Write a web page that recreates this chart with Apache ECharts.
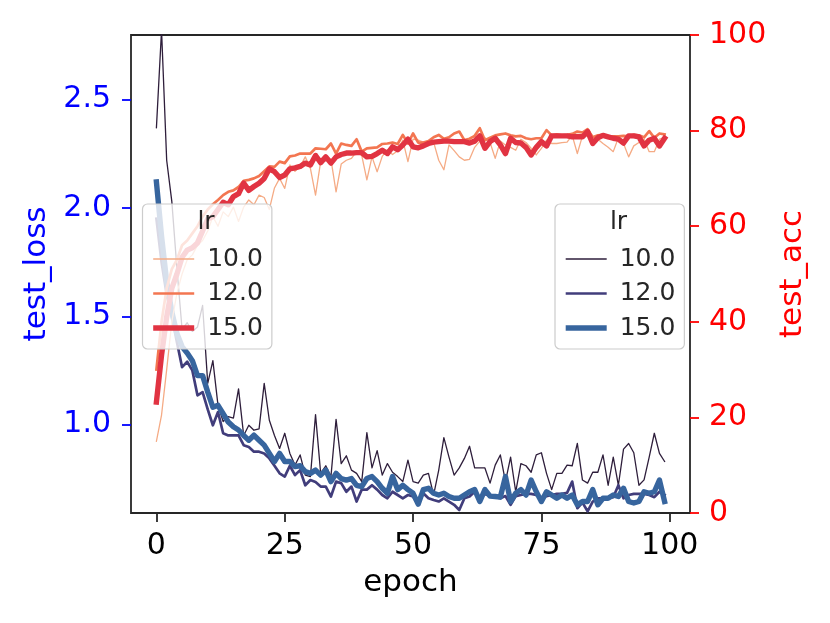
<!DOCTYPE html>
<html>
<head>
<meta charset="utf-8">
<script src="https://cdn.jsdelivr.net/npm/echarts@6/dist/echarts.min.js"></script>
<style>html,body{margin:0;padding:0;background:#fff}#c{width:830px;height:623px}</style>
</head>
<body>
<div id="c"></div>
<script>
const epochs = [0,1,2,3,4,5,6,7,8,9,10,11,12,13,14,15,16,17,18,19,20,21,22,23,24,25,26,27,28,29,30,31,32,33,34,35,36,37,38,39,40,41,42,43,44,45,46,47,48,49,50,51,52,53,54,55,56,57,58,59,60,61,62,63,64,65,66,67,68,69,70,71,72,73,74,75,76,77,78,79,80,81,82,83,84,85,86,87,88,89,90,91,92,93,94,95,96,97,98,99];
const lrLabels = ['10.0','12.0','15.0'];
const xTicks = [0,25,50,75,100];
const lossTicks = [1.0,1.5,2.0,2.5];

const lossLr10 = [2.37,2.82,2.22,2.03,1.72,1.44,1.47,1.43,1.45,1.55,
 1.19,1.295,1.089,1.014,1.037,1.03,1.165,0.95,0.997,0.974,
 0.98,1.19,1.02,0.95,0.89,0.96,0.867,0.813,0.86,0.767,
 0.76,1.046,0.775,0.81,0.76,1.024,0.82,0.856,0.79,0.775,
 0.737,0.963,0.80,0.88,0.767,0.82,0.78,0.76,0.737,0.836,
 0.737,0.73,0.767,0.775,0.675,0.79,0.94,0.85,0.767,0.80,
 0.844,0.90,0.80,0.80,0.80,0.73,0.813,0.86,0.737,0.85,
 0.69,0.82,0.81,0.78,0.86,0.87,0.775,0.70,0.775,0.775,
 0.813,0.81,0.913,0.744,0.73,0.78,0.78,0.86,0.72,0.85,
 0.72,0.887,0.913,0.87,0.72,0.745,0.85,0.96,0.867,0.83];
const lossLr12 = [1.95,1.75,1.60,1.50,1.38,1.265,1.29,1.25,1.135,1.15,
 1.07,0.997,1.058,0.96,0.95,0.95,0.95,0.905,0.897,0.875,
 0.875,0.867,0.844,0.81,0.775,0.76,0.81,0.767,0.79,0.72,
 0.744,0.735,0.714,0.714,0.668,0.737,0.73,0.69,0.714,0.645,
 0.70,0.70,0.72,0.70,0.675,0.66,0.69,0.675,0.66,0.675,
 0.668,0.63,0.683,0.66,0.652,0.645,0.66,0.645,0.63,0.606,
 0.66,0.668,0.69,0.66,0.68,0.67,0.665,0.66,0.67,0.63,
 0.67,0.675,0.68,0.68,0.675,0.66,0.67,0.675,0.68,0.68,
 0.685,0.737,0.614,0.64,0.60,0.645,0.66,0.66,0.66,0.665,
 0.72,0.66,0.675,0.68,0.68,0.68,0.675,0.665,0.69,0.675];
const lossLr15 = [2.12,1.87,1.66,1.52,1.42,1.36,1.33,1.295,1.226,1.226,
 1.15,1.08,1.089,1.05,1.012,0.99,0.975,0.95,0.928,0.951,
 0.928,0.905,0.867,0.83,0.867,0.83,0.83,0.806,0.81,0.783,
 0.775,0.79,0.767,0.79,0.737,0.775,0.751,0.744,0.751,0.72,
 0.714,0.751,0.76,0.737,0.706,0.683,0.76,0.70,0.72,0.70,
 0.683,0.633,0.70,0.706,0.683,0.675,0.683,0.668,0.66,0.66,
 0.675,0.69,0.70,0.645,0.70,0.67,0.668,0.665,0.76,0.645,
 0.683,0.70,0.675,0.744,0.69,0.645,0.69,0.675,0.66,0.675,
 0.66,0.675,0.63,0.645,0.645,0.70,0.63,0.66,0.66,0.675,
 0.668,0.706,0.645,0.638,0.645,0.69,0.683,0.69,0.744,0.645];

const accLr10 = [15,20.5,30,40,46,50,53,54,56,57,
 59,62,60,63,62,64,61,64,65.5,64.5,
 66.5,66,63.5,68,70,67.9,72.8,71.5,72.5,74.5,
 72.1,66.5,73.5,74.5,74,67.2,73,73.8,74.2,75.6,
 74.8,69.7,74.5,71.4,74.6,76,75,75.8,78.0,73.5,
 78.2,78.0,77.6,77.0,77.6,73.8,71.8,77.0,75.8,74.5,
 73.8,74.0,76.5,77.8,78.5,77.5,74.2,77.8,77.0,76.5,
 75.9,78.2,77.5,76.3,74.9,76.3,78.0,77.3,77.3,77.5,
 77.6,79.0,75.2,78.9,80.3,78.8,78.2,77.3,76.5,75.6,
 78.5,77.3,74.5,76.8,77.5,78.2,75.6,75.6,78.2,78.6];
const accLr12 = [30,40,47,51,53,56,57,58.5,60,62,
 63.5,64.6,65.5,66.5,67.2,67.5,68.2,69.5,69.7,70,
 70.5,71.5,72.5,72.4,73.5,73.2,74.6,74.8,75.2,75.2,
 75.2,76.3,76.2,76.1,77.3,75.2,77.3,77.0,76.8,78.2,
 75.6,76.3,76.4,76.5,77.2,77.3,77.5,77.2,79.1,77.3,
 79.4,77.5,77.5,77.8,78.6,79.1,78.3,78.6,79.4,79.8,
 78.0,78.3,78.9,80.5,78.0,78.5,79.0,79.2,79.4,79.0,
 78.8,78.9,78.4,78.2,78.4,78.4,80.1,79.0,79.2,79.0,
 79.1,79.3,79.8,79.6,80.3,78.6,79.0,79.1,78.8,78.8,
 78.8,78.9,78.8,79.1,79.0,78.6,79.9,78.5,79.4,79.2];
const accLr15 = [23.2,33,41,47,50,53.5,55,55.5,56.5,59,
 61.5,62,63.5,65,64.5,66.2,66.8,69,67.5,68.3,
 69,70,72,71.4,70.2,70.7,72,72.2,72.5,73.2,
 72.8,74.8,73.3,74.5,73.2,74.5,75,75.3,75.3,75.4,
 75.4,74.5,74.6,75.2,75.9,75.2,76.6,76,77,78.2,
 76.6,76.4,76.8,77.3,77.6,77.7,77.8,77.8,77.7,77.7,
 77.7,77.4,77.8,78.9,76.3,77.7,78.4,77.0,75.2,78.4,
 77.5,77.4,76.5,74.9,76.5,77.7,76.8,78.9,78.9,78.9,
 78.9,78.7,78.7,78.7,79.8,77.3,78.5,79.0,78.7,78.4,
 78.2,77.4,78.9,78.9,78.7,76.8,78.0,78.4,76.8,78.4];

const FONT = 'DejaVu Sans';
const INK = '#262626';
const lossColors = ['#2e1e3b','#413d7b','#37659e'];
const accColors = ['#f5ab85','#f37651','#e13342'];
const widths = [1.3, 2.7, 5.4];

function pairs(arr){ return epochs.map((e,i)=>[e, arr[i]]); }

const lossData = [lossLr10, lossLr12, lossLr15];
const accData = [accLr10, accLr12, accLr15];

const series = [];
lossData.forEach((d,i)=>{
  series.push({name:'loss ' + lrLabels[i], type:'line', yAxisIndex:0, data:pairs(d),
    symbol:'none', showSymbol:false, clip:true, silent:true, animation:false, z:2,
    lineStyle:{color:lossColors[i], width:widths[i], cap:'square', join:'round'},
    itemStyle:{color:lossColors[i]}});
});
accData.forEach((d,i)=>{
  series.push({name:'acc ' + lrLabels[i], type:'line', yAxisIndex:1, data:pairs(d),
    symbol:'none', showSymbol:false, clip:true, silent:true, animation:false, z:3,
    lineStyle:{color:accColors[i], width:widths[i], cap:'square', join:'round'},
    itemStyle:{color:accColors[i]}});
});

function legendCfg(prefix, left, colors){
  return {
    orient:'vertical', left:left, top:204,
    data: lrLabels.map((l,i)=>({name:prefix + l,
      lineStyle:{color:colors[i], width:widths[i], cap:'butt'},
      itemStyle:{opacity:0, borderWidth:0}})),
    formatter: n => n.split(' ')[1],
    itemWidth:41, itemHeight:14, itemGap:8.5,
    padding:[42,9,8,8],
    itemStyle:{opacity:0, borderWidth:0},
    backgroundColor:'rgba(255,255,255,0.8)', borderColor:'#cccccc', borderWidth:1.2, borderRadius:5,
    textStyle:{fontFamily:FONT, fontSize:25, color:INK, lineHeight:26, padding:[0,0,0,8]},
    selectedMode:false, z:10
  };
}

const chart = echarts.init(document.getElementById('c'), null, {renderer:'canvas'});
chart.setOption({
  animation:false,
  backgroundColor:'#ffffff',
  grid:{left:131, right:140, top:35, bottom:110, show:true, borderColor:INK, borderWidth:1.8, backgroundColor:'transparent', containLabel:false},
  xAxis:{type:'value', min:-4.95, max:103.95,
    name:'epoch', nameLocation:'middle', nameGap:54,
    nameTextStyle:{fontFamily:FONT, fontSize:31, color:'#000'},
    axisLine:{show:false, onZero:false}, splitLine:{show:false},
    axisTick:{show:true, length:9, customValues:xTicks, lineStyle:{color:INK, width:1.8}},
    axisLabel:{show:true, customValues:xTicks, margin:18, fontFamily:FONT, fontSize:30, color:'#000'}},
  yAxis:[
    {type:'value', position:'left', min:0.592, max:2.798,
     name:'test_loss', nameLocation:'middle', nameGap:79, nameRotate:90,
     nameTextStyle:{fontFamily:FONT, fontSize:31, color:'#0000ff'},
     axisLine:{show:false, onZero:false}, splitLine:{show:false},
     axisTick:{show:true, length:9, customValues:lossTicks, lineStyle:{color:'#0000ff', width:1.8}},
     axisLabel:{show:true, customValues:lossTicks, margin:20, fontFamily:FONT, fontSize:30, color:'#0000ff', formatter:v=>Number(v).toFixed(1)}},
    {type:'value', position:'right', min:0, max:100, interval:20,
     name:'test_acc', nameLocation:'middle', nameGap:87, nameRotate:90,
     nameTextStyle:{fontFamily:FONT, fontSize:31, color:'#ff0000'},
     axisLine:{show:false, onZero:false}, splitLine:{show:false},
     axisTick:{show:true, length:9, lineStyle:{color:'#ff0000', width:1.8}},
     axisLabel:{show:true, margin:19, fontFamily:FONT, fontSize:30, color:'#ff0000'}}
  ],
  legend:[legendCfg('acc ', 142.5, accColors), legendCfg('loss ', 555, lossColors)],
  graphic:[
    {type:'text', z:20, style:{text:'lr', x:206, y:222, fontFamily:FONT, fontSize:25, fill:INK, align:'center', verticalAlign:'middle'}},
    {type:'text', z:20, style:{text:'lr', x:618.5, y:222, fontFamily:FONT, fontSize:25, fill:INK, align:'center', verticalAlign:'middle'}}
  ],
  series: series
});
</script>
</body>
</html>
